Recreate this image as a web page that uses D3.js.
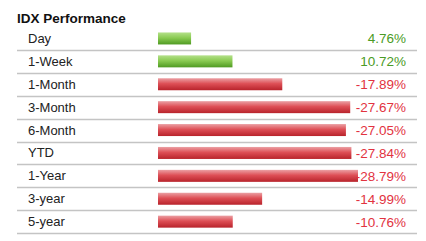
<!DOCTYPE html>
<html><head><meta charset="utf-8">
<script src="https://cdn.jsdelivr.net/npm/d3@7"></script>
<style>body{margin:0;background:#fff}svg{display:block}</style>
</head><body>
<script>
const categories = ["Day","1-Week","1-Month","3-Month","6-Month","YTD","1-Year","3-year","5-year"];
const values = [4.76, 10.72, -17.89, -27.67, -27.05, -27.84, -28.79, -14.99, -10.76];
const title = "IDX Performance";

const W = 426, H = 241;
const svg = d3.select("body").append("svg").attr("width", W).attr("height", H);

const defs = svg.append("defs");
const g1 = defs.append("linearGradient").attr("id","gGreen").attr("x1",0).attr("y1",0).attr("x2",0).attr("y2",1);
g1.append("stop").attr("offset","0%").attr("stop-color","#b4e08a");
g1.append("stop").attr("offset","45%").attr("stop-color","#8acb52");
g1.append("stop").attr("offset","100%").attr("stop-color","#4f9a22");
const g2 = defs.append("linearGradient").attr("id","gRed").attr("x1",0).attr("y1",0).attr("x2",0).attr("y2",1);
g2.append("stop").attr("offset","0%").attr("stop-color","#eba0a4");
g2.append("stop").attr("offset","45%").attr("stop-color","#de4f56");
g2.append("stop").attr("offset","100%").attr("stop-color","#b8232b");

const y = d3.scaleBand().domain(categories).range([27, 27 + 22.9*categories.length]).padding(0);
const x = d3.scaleLinear().domain([0, d3.max(values, v => Math.abs(v))]).range([158, 358]);
const barH = 12;

svg.append("text").attr("x", 17).attr("y", 23)
  .attr("font-family", "Liberation Sans, Arial, sans-serif").attr("font-weight", "bold")
  .attr("font-size", 13.5).attr("fill", "#111").text(title);

const rows = svg.selectAll("g.row").data(categories).join("g").attr("class","row");

rows.append("line")
  .attr("x1", 17).attr("x2", 417)
  .attr("y1", d => Math.round(y(d) + y.bandwidth()) + 0.5)
  .attr("y2", d => Math.round(y(d) + y.bandwidth()) + 0.5)
  .attr("stroke", "#c4c4c4").attr("stroke-width", 1.3);

rows.append("text")
  .attr("x", 28).attr("y", d => y(d) + y.bandwidth()/2 + 4.5)
  .attr("font-family", "Liberation Sans, Arial, sans-serif").attr("font-size", 13)
  .attr("fill", "#222").text(d => d);

rows.append("rect")
  .attr("x", x(0))
  .attr("y", d => y(d) + (y.bandwidth() - barH)/2)
  .attr("width", (d,i) => x(Math.abs(values[i])) - x(0))
  .attr("height", barH)
  .attr("fill", (d,i) => values[i] >= 0 ? "url(#gGreen)" : "url(#gRed)");

rows.append("text")
  .attr("x", 406).attr("y", d => y(d) + y.bandwidth()/2 + 5)
  .attr("text-anchor", "end")
  .attr("font-family", "Liberation Sans, Arial, sans-serif").attr("font-size", 13.5)
  .attr("fill", (d,i) => values[i] >= 0 ? "#4a9b25" : "#e2333f")
  .text((d,i) => values[i].toFixed(2) + "%");
</script>
</body></html>
